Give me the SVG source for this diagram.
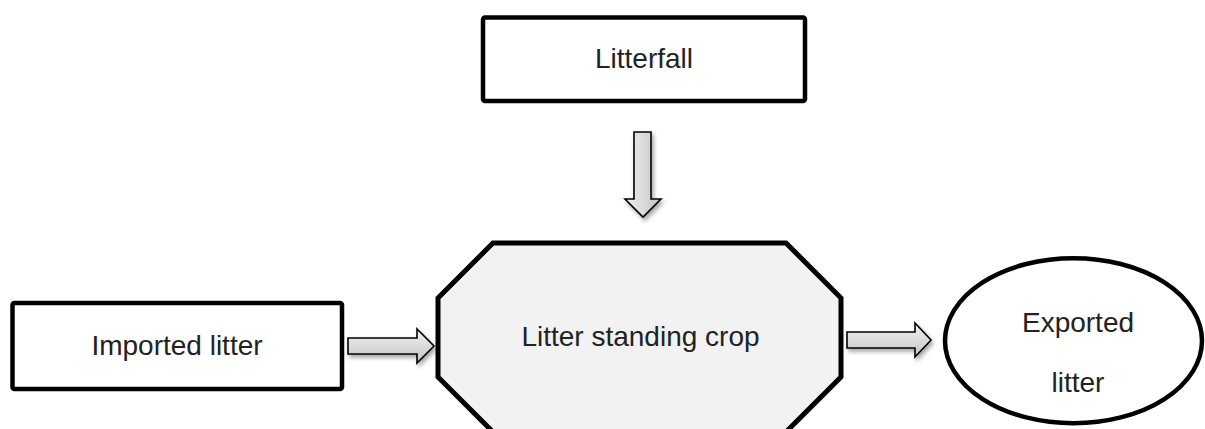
<svg xmlns="http://www.w3.org/2000/svg" width="1205" height="429" viewBox="0 0 1205 429">
  <style>
    .box { fill: #ffffff; stroke: #000000; stroke-width: 4.5; }
    .label { font-family: "Liberation Sans", Arial, sans-serif; font-size: 28px; fill: #222222; text-anchor: middle; }
    .flow { stroke: #000000; stroke-width: 1.6; stroke-linejoin: miter; filter: url(#shadow); }
    .flow-h { fill: url(#gradH); }
    .flow-v { fill: url(#gradV); }
  </style>
  <defs>
    <linearGradient id="gradH" x1="0" y1="0" x2="0" y2="1">
      <stop offset="0" stop-color="#f2f2f2"/>
      <stop offset="1" stop-color="#c4c4c4"/>
    </linearGradient>
    <linearGradient id="gradV" x1="0" y1="0" x2="1" y2="0">
      <stop offset="0" stop-color="#f0f0f0"/>
      <stop offset="1" stop-color="#c4c4c4"/>
    </linearGradient>
    <filter id="shadow" x="-30%" y="-30%" width="160%" height="160%">
      <feDropShadow dx="2" dy="3" stdDeviation="2" flood-color="#000000" flood-opacity="0.35"/>
    </filter>
  </defs>

  <!-- block arrows between the pools -->
  <g id="connectors">
    <path class="flow flow-v" d="M634,132 H651 V199 H661 L643,217 L625,199 H634 Z"/>
    <path class="flow flow-h" d="M348,338 H417 V329 L434,346 L417,363 V354 H348 Z"/>
    <path class="flow flow-h" d="M847,332 H915 V323 L931,340 L915,357 V348 H847 Z"/>
  </g>

  <g id="litterfall">
    <rect class="box" x="483" y="17.5" width="322" height="83.5" rx="2"/>
    <text class="label" x="644" y="68">Litterfall</text>
  </g>

  <g id="imported-litter">
    <rect class="box" x="12.5" y="303" width="329.5" height="86" rx="2"/>
    <text class="label" x="177" y="355">Imported litter</text>
  </g>

  <g id="litter-standing-crop">
    <polygon points="493,243 786,243 841,298 841,377 786,432 493,432 438,377 438,298" fill="#f2f2f2" stroke="#000000" stroke-width="5"/>
    <text class="label" x="640.5" y="346">Litter standing crop</text>
  </g>

  <g id="exported-litter">
    <ellipse class="box" cx="1073.5" cy="340.7" rx="128.5" ry="82.5"/>
    <text class="label" x="1078" y="332">Exported</text>
    <text class="label" x="1078" y="392">litter</text>
  </g>
</svg>
